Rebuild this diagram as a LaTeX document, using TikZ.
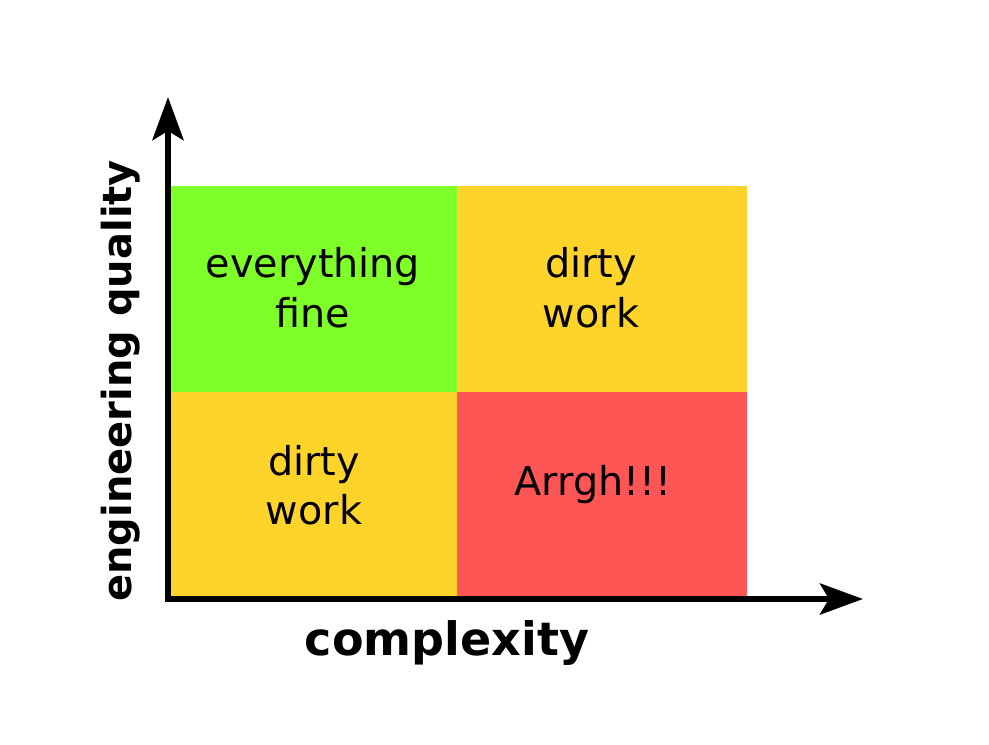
\documentclass[tikz,border=0pt]{standalone}
\usepackage{fontspec}
\setmainfont{DejaVu Sans}
\usetikzlibrary{arrows.meta}
\definecolor{qgreen}{HTML}{7FFF2A}
\definecolor{qyellow}{HTML}{FFD42A}
\definecolor{qred}{HTML}{FF5555}
\tikzset{
  qtext/.style={anchor=base, inner sep=0pt, font=\fontsize{39.7}{50}\selectfont},
  axlabel/.style={anchor=base, inner sep=0pt, font=\fontsize{40}{48}\selectfont\bfseries},
  axis/.style={line width=6pt, line join=miter,
    {Stealth[length=43pt,width=31pt,inset=9pt]}-{Stealth[length=43pt,width=31pt,inset=9pt]}}
}
\begin{document}
\begin{tikzpicture}[x=1pt,y=-1pt]
\useasboundingbox[fill=white] (0,0) rectangle (989,745);
% quadrants
\fill[qgreen]  (171,186) rectangle (457,392);
\fill[qyellow] (457,186) rectangle (747,392);
\fill[qyellow] (171,392) rectangle (457,596);
\fill[qred]    (457,392) rectangle (747,596);
% texts
\node[qtext] (tl1) at (313,277) {everything};
\node[qtext] (tl2) at (313,327) {fine};
\node[qtext] (tr1) at (591,277) {dirty};
\node[qtext] (tr2) at (591,327) {work};
\node[qtext] (bl1) at (314,475) {dirty};
\node[qtext] (bl2) at (314,524) {work};
\node[qtext] (br1) at (593,495) {Arrgh!!!};
% axes
\coordinate (ytip) at (168,97);
\coordinate (O) at (168,599);
\coordinate (xtip) at (863,599);
\draw[axis] (ytip) -- (O) -- (xtip);
% axis labels
\node[axlabel, font=\fontsize{46}{54}\selectfont\bfseries] (xl) at (447,655) {complexity};
\node[axlabel, rotate=90] (yl) at (131,381) {engineering quality};
\end{tikzpicture}
\end{document}
